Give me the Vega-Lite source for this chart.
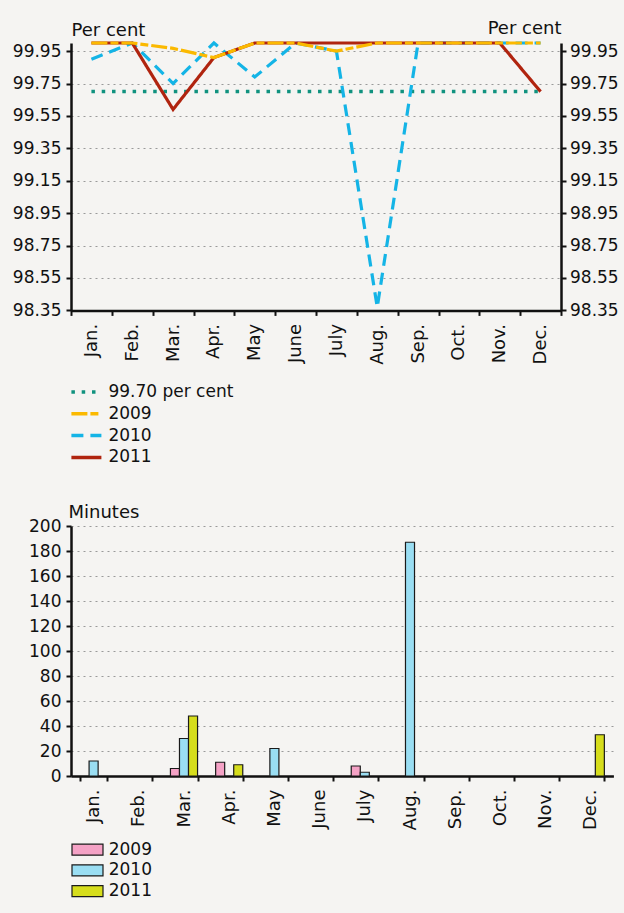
{
  "$schema": "https://vega.github.io/schema/vega-lite/v6.json",
  "background": "#f5f4f2",
  "padding": {"left": 12, "top": 19, "right": 6, "bottom": 85},
  "spacing": 138,
  "config": {
    "font": "DejaVu Sans",
    "view": {"stroke": null},
    "axis": {
      "labelFont": "DejaVu Sans", "labelFontSize": 17, "labelColor": "#111",
      "titleFont": "DejaVu Sans", "titleFontSize": 17, "titleFontWeight": "normal", "titleColor": "#111",
      "domainColor": "#111", "domainWidth": 2.5, "tickColor": "#111", "tickWidth": 2, "tickSize": 5,
      "gridColor": "#9a9a9a", "gridDash": [2, 4], "gridWidth": 1.2
    },
    "legend": {"labelFont": "DejaVu Sans", "labelFontSize": 17, "labelColor": "#111"}
  },
  "vconcat": [
    {
      "width": 490,
      "height": 267.4,
      "data": {"values": [
        {"month": "Jan.", "series": "99.70 per cent", "value": 99.70},
        {"month": "Feb.", "series": "99.70 per cent", "value": 99.70},
        {"month": "Mar.", "series": "99.70 per cent", "value": 99.70},
        {"month": "Apr.", "series": "99.70 per cent", "value": 99.70},
        {"month": "May", "series": "99.70 per cent", "value": 99.70},
        {"month": "June", "series": "99.70 per cent", "value": 99.70},
        {"month": "July", "series": "99.70 per cent", "value": 99.70},
        {"month": "Aug.", "series": "99.70 per cent", "value": 99.70},
        {"month": "Sep.", "series": "99.70 per cent", "value": 99.70},
        {"month": "Oct.", "series": "99.70 per cent", "value": 99.70},
        {"month": "Nov.", "series": "99.70 per cent", "value": 99.70},
        {"month": "Dec.", "series": "99.70 per cent", "value": 99.70},
        {"month": "Jan.", "series": "2010", "value": 99.90},
        {"month": "Feb.", "series": "2010", "value": 100},
        {"month": "Mar.", "series": "2010", "value": 99.75},
        {"month": "Apr.", "series": "2010", "value": 100},
        {"month": "May", "series": "2010", "value": 99.79},
        {"month": "June", "series": "2010", "value": 100},
        {"month": "July", "series": "2010", "value": 99.95},
        {"month": "Aug.", "series": "2010", "value": 98.37},
        {"month": "Sep.", "series": "2010", "value": 100},
        {"month": "Oct.", "series": "2010", "value": 100},
        {"month": "Nov.", "series": "2010", "value": 100},
        {"month": "Dec.", "series": "2010", "value": 100},
        {"month": "Jan.", "series": "2011", "value": 100},
        {"month": "Feb.", "series": "2011", "value": 100},
        {"month": "Mar.", "series": "2011", "value": 99.59},
        {"month": "Apr.", "series": "2011", "value": 99.91},
        {"month": "May", "series": "2011", "value": 100},
        {"month": "June", "series": "2011", "value": 100},
        {"month": "July", "series": "2011", "value": 100},
        {"month": "Aug.", "series": "2011", "value": 100},
        {"month": "Sep.", "series": "2011", "value": 100},
        {"month": "Oct.", "series": "2011", "value": 100},
        {"month": "Nov.", "series": "2011", "value": 100},
        {"month": "Dec.", "series": "2011", "value": 99.70},
        {"month": "Jan.", "series": "2009", "value": 100},
        {"month": "Feb.", "series": "2009", "value": 100},
        {"month": "Mar.", "series": "2009", "value": 99.967},
        {"month": "Apr.", "series": "2009", "value": 99.91},
        {"month": "May", "series": "2009", "value": 100},
        {"month": "June", "series": "2009", "value": 100},
        {"month": "July", "series": "2009", "value": 99.95},
        {"month": "Aug.", "series": "2009", "value": 100},
        {"month": "Sep.", "series": "2009", "value": 100},
        {"month": "Oct.", "series": "2009", "value": 100},
        {"month": "Nov.", "series": "2009", "value": 100},
        {"month": "Dec.", "series": "2009", "value": 100}
      ]},
      "encoding": {
        "x": {
          "field": "month", "type": "ordinal",
          "sort": ["Jan.", "Feb.", "Mar.", "Apr.", "May", "June", "July", "Aug.", "Sep.", "Oct.", "Nov.", "Dec."],
          "scale": {"type": "band", "paddingInner": 0, "paddingOuter": 0},
          "bandPosition": 0.5,
          "axis": {"title": null, "labelAngle": -90, "labelAlign": "right", "labelBaseline": "middle", "labelPadding": 8, "labelFontSize": 18, "tickBand": "extent", "grid": false}
        },
        "color": {
          "field": "series", "type": "nominal",
          "scale": {"domain": ["99.70 per cent", "2009", "2010", "2011"], "range": ["#10927f", "#fbb900", "#14b4e6", "#b0240f"]},
          "legend": {"title": null, "orient": "none", "legendX": 3.4, "legendY": 337, "symbolType": "M-1.5,0H1.5", "symbolSize": 400, "symbolStrokeWidth": 3.5, "rowPadding": 1.8, "labelOffset": 10, "padding": 0}
        },
        "strokeDash": {
          "field": "series", "type": "nominal",
          "scale": {"domain": ["99.70 per cent", "2009", "2010", "2011"], "range": [[3.5, 6.8], [16, 3, 8, 3], [12, 7], [1, 0]]},
          "legend": {"title": null, "orient": "none", "legendX": 3.4, "legendY": 337, "symbolType": "M-1.5,0H1.5", "symbolSize": 400, "symbolStrokeWidth": 3.5, "rowPadding": 1.8, "labelOffset": 10, "padding": 0}
        }
      },
      "layer": [
        {
          "encoding": {
            "y": {
              "field": "value", "type": "quantitative",
              "scale": {"domain": [98.35, 100], "nice": false, "zero": false},
              "axis": {"values": [98.35, 98.55, 98.75, 98.95, 99.15, 99.35, 99.55, 99.75, 99.95], "format": ".2f", "title": "Per cent", "titleAngle": 0, "titleAlign": "left", "titleBaseline": "alphabetic", "titleX": 0, "titleY": -8, "titleFontSize": 18, "grid": true, "labelPadding": 5}
            }
          },
          "layer": [
            {"transform": [{"filter": "datum.series === '99.70 per cent'"}], "mark": {"type": "line", "strokeWidth": 3.5}},
            {"transform": [{"filter": "datum.series === '2010'"}], "mark": {"type": "line", "strokeWidth": 3.2}},
            {"transform": [{"filter": "datum.series === '2011'"}], "mark": {"type": "line", "strokeWidth": 3.2}},
            {"transform": [{"filter": "datum.series === '2009'"}], "mark": {"type": "line", "strokeWidth": 3.2}}
          ]
        },
        {
          "transform": [{"filter": "datum.series === '2011'"}],
          "mark": {"type": "line", "opacity": 0},
          "encoding": {
            "y": {
              "field": "value", "type": "quantitative",
              "scale": {"domain": [98.35, 100], "nice": false, "zero": false},
              "axis": {"orient": "right", "values": [98.35, 98.55, 98.75, 98.95, 99.15, 99.35, 99.55, 99.75, 99.95], "format": ".2f", "title": "Per cent", "titleAngle": 0, "titleAlign": "right", "titleBaseline": "alphabetic", "titleX": 0, "titleY": -10, "titleFontSize": 18, "grid": false, "labelPadding": 3.5}
            }
          }
        }
      ],
      "resolve": {"scale": {"y": "independent"}}
    },
    {
      "width": 542.4,
      "height": 250,
      "data": {"values": [
        {"month": "Jan.", "year": "2010", "minutes": 12},
        {"month": "Mar.", "year": "2009", "minutes": 6},
        {"month": "Mar.", "year": "2010", "minutes": 30},
        {"month": "Mar.", "year": "2011", "minutes": 48},
        {"month": "Apr.", "year": "2009", "minutes": 11},
        {"month": "Apr.", "year": "2011", "minutes": 9},
        {"month": "May", "year": "2010", "minutes": 22},
        {"month": "July", "year": "2009", "minutes": 8},
        {"month": "July", "year": "2010", "minutes": 3},
        {"month": "Aug.", "year": "2010", "minutes": 187},
        {"month": "Dec.", "year": "2011", "minutes": 33}
      ]},
      "mark": {"type": "bar", "stroke": "#1a1a1a", "strokeWidth": 1.2},
      "encoding": {
        "x": {
          "field": "month", "type": "nominal",
          "sort": ["Jan.", "Feb.", "Mar.", "Apr.", "May", "June", "July", "Aug.", "Sep.", "Oct.", "Nov.", "Dec."],
          "scale": {"domain": ["Jan.", "Feb.", "Mar.", "Apr.", "May", "June", "July", "Aug.", "Sep.", "Oct.", "Nov.", "Dec."], "paddingInner": 0.4, "paddingOuter": 0.2},
          "axis": {"title": null, "labelAngle": -90, "labelAlign": "right", "labelBaseline": "middle", "labelPadding": 8, "labelFontSize": 18, "tickBand": "extent", "grid": false}
        },
        "xOffset": {"field": "year", "type": "nominal", "scale": {"domain": ["2009", "2010", "2011"], "paddingInner": 0, "paddingOuter": 0}},
        "y": {
          "field": "minutes", "type": "quantitative",
          "scale": {"domain": [0, 200], "nice": false},
          "axis": {"values": [0, 20, 40, 60, 80, 100, 120, 140, 160, 180, 200], "title": "Minutes", "titleAngle": 0, "titleAlign": "left", "titleBaseline": "alphabetic", "titleX": -3, "titleY": -9, "titleFontSize": 18, "grid": true, "labelPadding": 5}
        },
        "fill": {
          "field": "year", "type": "nominal",
          "scale": {"domain": ["2009", "2010", "2011"], "range": ["#f5a2c6", "#9adef3", "#d6dd1c"]},
          "legend": {"title": null, "orient": "none", "legendX": 5.5, "legendY": 795.7, "symbolType": "M-1.55,-0.55H1.55V0.55H-1.55Z", "symbolSize": 400, "symbolStrokeColor": "#1a1a1a", "symbolStrokeWidth": 1.2, "symbolOpacity": 1, "rowPadding": 1.7, "labelOffset": 10.2, "padding": 0}
        }
      }
    }
  ]
}
